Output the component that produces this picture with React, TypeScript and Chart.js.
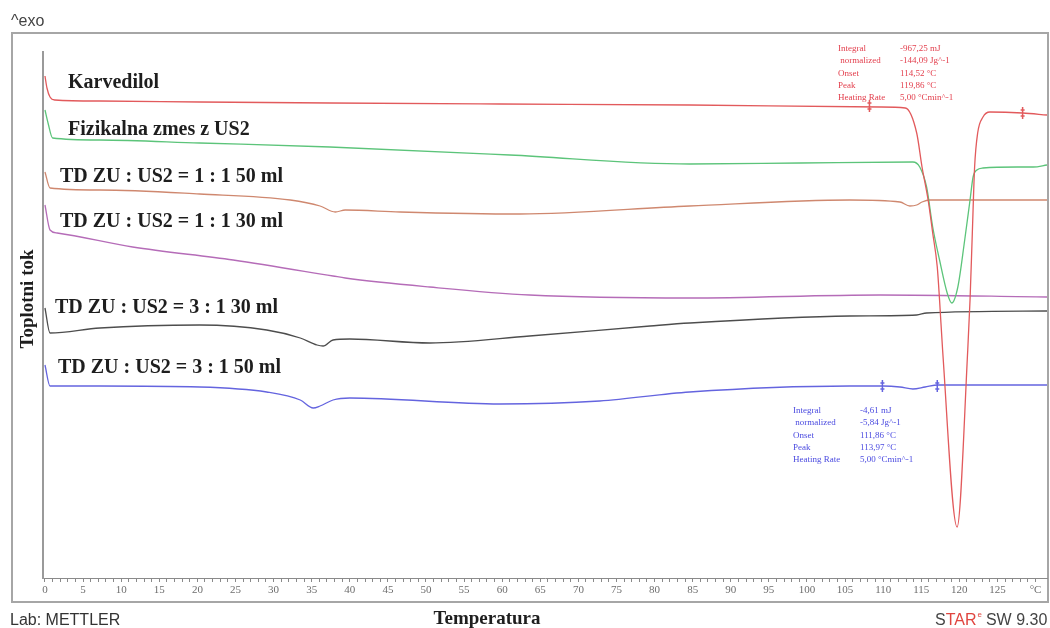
import React, { useEffect, useRef } from "react";
import { Chart, registerables } from "chart.js";

Chart.register(...registerables);

// Temperature (°C) and heat flow (arbitrary units, exo up)
const KARVEDILOL_T = [0, 0.26, 0.66, 1.3, 7.2, 20.3, 37.4, 59.7, 84.6, 109.6, 112.9, 114.4, 115.1, 115.9, 116.5, 117.1, 117.4, 117.8, 119.7, 121.1, 121.4, 121.7, 122.0, 122.4, 123.1, 124.0, 128.3, 131.5];
const KARVEDILOL_HF = [502, 490, 481, 478, 477, 476, 475, 474, 473, 471, 470, 445, 411, 378, 345, 311, 278, 228, 51, 228, 278, 345, 411, 445, 461, 466, 465, 463];

const FIZ_T = [0, 0.4, 1.0, 7.2, 20.3, 37.4, 61.0, 84.6, 99.1, 113.9, 114.8, 115.7, 116.5, 117.4, 118.4, 119.0, 119.8, 120.7, 121.4, 121.8, 122.3, 123.1, 127.6, 129.7, 131.5];
const FIZ_HF = [468, 455, 440, 438, 435, 431, 423, 414, 415, 416, 411, 391, 351, 318, 285, 275, 291, 338, 378, 401, 408, 410, 411, 411, 413];

const TD11_50_T = [0, 0.66, 7.2, 20.3, 32.2, 36.1, 38.1, 39.4, 46.6, 62.3, 84.6, 105.6, 112.2, 113.5, 114.4, 115.1, 116.1, 131.5];
const TD11_50_HF = [406, 390, 388, 384, 378, 372, 366, 368, 366, 364, 372, 378, 376, 372, 373, 376, 378, 378];

const TD11_30_T = [0, 0.66, 1.6, 11.5, 24.7, 37.8, 39.4, 50.5, 63.6, 84.6, 109.6, 131.5];
const TD11_30_HF = [373, 348, 345, 331, 318, 302, 300, 291, 283, 280, 283, 281];

const TD31_30_T = [0, 0.66, 7.2, 20.3, 29.1, 33.5, 35.7, 36.5, 37.8, 40.0, 50.5, 63.6, 79.4, 84.6, 105.6, 114.4, 115.7, 131.5];
const TD31_30_HF = [270, 245, 250, 253, 248, 240, 233, 232, 238, 239, 235, 242, 252, 255, 262, 263, 265, 267];

const TD31_50_T = [0, 0.66, 7.2, 20.3, 29.1, 33.5, 35.2, 36.1, 37.8, 40.0, 59.7, 72.8, 84.6, 105.6, 110.0, 112.2, 113.9, 115.5, 117.2, 131.5];
const TD31_50_HF = [213, 192, 192, 191, 186, 178, 170, 172, 178, 180, 174, 177, 186, 192, 192, 191, 189, 191, 193, 193];

const SERIES_NAMES = [
  "Karvedilol",
  "Fizikalna zmes z US2",
  "TD ZU : US2 = 1 : 1 50 ml",
  "TD ZU : US2 = 1 : 1 30 ml",
  "TD ZU : US2 = 3 : 1 30 ml",
  "TD ZU : US2 = 3 : 1 50 ml",
];

// x tick positions every 1 °C, labelled every 5 °C, "°C" at the end
const TICK_VALUES = Array.from({ length: 131 }, (_, i) => i);
const TICK_LABELS = ["0", "5", "10", "15", "20", "25", "30", "35", "40", "45", "50", "55", "60", "65", "70", "75", "80", "85", "90", "95", "100", "105", "110", "115", "120", "125", "°C"];

// integration limits (temperature, heat flow)
const RED_LIMITS = [[108.2, 472], [128.3, 465]];
const BLUE_LIMITS = [[109.9, 192], [117.1, 192]];

const RED_ANN = [
  ["Integral", "-967,25 mJ"],
  [" normalized", "-144,09 Jg^-1"],
  ["Onset", "114,52 °C"],
  ["Peak", "119,86 °C"],
  ["Heating Rate", "5,00 °Cmin^-1"],
];
const BLUE_ANN = [
  ["Integral", "-4,61 mJ"],
  [" normalized", "-5,84 Jg^-1"],
  ["Onset", "111,86 °C"],
  ["Peak", "113,97 °C"],
  ["Heating Rate", "5,00 °Cmin^-1"],
];

const SERIES_T = [KARVEDILOL_T, FIZ_T, TD11_50_T, TD11_30_T, TD31_30_T, TD31_50_T];
const SERIES_HF = [KARVEDILOL_HF, FIZ_HF, TD11_50_HF, TD11_30_HF, TD31_30_HF, TD31_50_HF];
const COLORS = ["#e25a5c", "#5cc47a", "#cf886f", "#b56cb8", "#4d4d4d", "#6464df"];

const LABEL_POS = [
  [68, 88],
  [68, 135],
  [60, 182],
  [60, 227],
  [55, 313],
  [58, 373],
];

const SERIF = "'Liberation Serif', 'Times New Roman', serif";
const SANS = "'Liberation Sans', Arial, sans-serif";

const decor = {
  id: "decor",
  beforeDraw(chart: any) {
    const ctx = chart.ctx;
    ctx.save();
    ctx.fillStyle = "#ffffff";
    ctx.fillRect(0, 0, chart.width, chart.height);
    ctx.strokeStyle = "#a6a6a6";
    ctx.lineWidth = 2;
    ctx.strokeRect(12, 33, 1036, 569);
    ctx.restore();
  },
  afterDraw(chart: any) {
    const ctx = chart.ctx;
    const xs = chart.scales.x;
    const ys = chart.scales.y;
    ctx.save();
    // curve labels
    ctx.fillStyle = "#1e1e1e";
    ctx.font = `bold 20px ${SERIF}`;
    ctx.textBaseline = "alphabetic";
    ctx.textAlign = "left";
    SERIES_NAMES.forEach((n, i) => ctx.fillText(n, LABEL_POS[i][0], LABEL_POS[i][1]));

    // y title
    ctx.save();
    ctx.translate(33, 299);
    ctx.rotate(-Math.PI / 2);
    ctx.textAlign = "center";
    ctx.font = `bold 19px ${SERIF}`;
    ctx.fillText("Toplotni tok", 0, 0);
    ctx.restore();

    // x title
    ctx.textAlign = "center";
    ctx.font = `bold 19px ${SERIF}`;
    ctx.fillText("Temperatura", 487, 624);

    // ^exo
    ctx.textAlign = "left";
    ctx.fillStyle = "#444";
    ctx.font = `16px ${SANS}`;
    ctx.fillText("^exo", 11, 26);

    // Lab
    ctx.font = `16px ${SANS}`;
    ctx.fillStyle = "#333";
    ctx.fillText("Lab: METTLER", 10, 625);

    // STAR SW 9.30
    let x = 935;
    ctx.fillStyle = "#444";
    ctx.fillText("S", x, 625);
    x += ctx.measureText("S").width;
    ctx.fillStyle = "#e0453f";
    ctx.fillText("TAR", x, 625);
    x += ctx.measureText("TAR").width;
    ctx.font = `8px ${SANS}`;
    ctx.fillText("e", x + 1, 617);
    x += 5;
    ctx.font = `16px ${SANS}`;
    ctx.fillStyle = "#444";
    ctx.fillText(" SW 9.30", x, 625);

    // annotations
    ctx.font = `9px ${SERIF}`;
    ctx.fillStyle = "#e3404e";
    RED_ANN.forEach((r, i) => {
      ctx.fillText(r[0], 838, 51 + i * 12.3);
      ctx.fillText(r[1], 900, 51 + i * 12.3);
    });
    ctx.fillStyle = "#4b4be0";
    BLUE_ANN.forEach((r, i) => {
      ctx.fillText(r[0], 793, 413 + i * 12.3);
      ctx.fillText(r[1], 860, 413 + i * 12.3);
    });

    // integration limit markers
    const mark = (lim: number[][], color: string) => {
      ctx.strokeStyle = color;
      ctx.lineWidth = 1.5;
      lim.forEach(([t, h]) => {
        const px = xs.getPixelForValue(t);
        const py = ys.getPixelForValue(h);
        ctx.beginPath();
        ctx.moveTo(px, py - 6);
        ctx.lineTo(px, py + 6);
        ctx.moveTo(px - 2, py - 3);
        ctx.lineTo(px + 2, py - 3);
        ctx.moveTo(px - 2, py + 3);
        ctx.lineTo(px + 2, py + 3);
        ctx.stroke();
      });
    };
    mark(RED_LIMITS, COLORS[0]);
    mark(BLUE_LIMITS, COLORS[5]);
    ctx.restore();
  },
};

export default function App() {
  const ref = useRef<HTMLCanvasElement>(null);
  useEffect(() => {
    if (!ref.current) return;
    const datasets = SERIES_NAMES.map((name, i) => ({
      label: name,
      data: SERIES_T[i].map((t, j) => ({ x: t, y: SERIES_HF[i][j] })),
      borderColor: COLORS[i],
      borderWidth: 1.3,
      pointRadius: 0,
      fill: false,
      cubicInterpolationMode: "monotone" as const,
    }));
    const chart = new Chart(ref.current, {
      type: "line",
      data: { datasets },
      options: {
        animation: false,
        responsive: false,
        layout: { padding: { left: 12, right: 3, top: 52, bottom: 26 } },
        plugins: { legend: { display: false }, tooltip: { enabled: false } },
        scales: {
          x: {
            type: "linear",
            min: -0.26,
            max: 131.5,
            afterBuildTicks: (s: any) => {
              s.ticks = TICK_VALUES.map((v) => ({ value: v }));
            },
            afterFit: (s: any) => {
              s.height = 24;
            },
            grid: { display: true, drawOnChartArea: false, drawTicks: true, tickLength: 4, color: "#8a8a8a" },
            border: { display: true, color: "#8a8a8a", width: 1 },
            ticks: {
              autoSkip: false,
              maxRotation: 0,
              padding: 2,
              color: "#6e6e6e",
              font: { family: SERIF, size: 11 },
              callback: (v: any) => (Number(v) % 5 === 0 ? TICK_LABELS[Number(v) / 5] : ""),
            },
          },
          y: {
            type: "linear",
            min: 0,
            max: 526,
            afterFit: (s: any) => {
              s.width = 31;
            },
            grid: { display: false, drawTicks: false },
            border: { display: true, color: "#9a9a9a", width: 2 },
            ticks: { display: false },
          },
        },
      },
      plugins: [decor],
    });
    return () => chart.destroy();
  }, []);
  return (
    <div style={{ position: "absolute", left: 0, top: 0, width: 1050, height: 628 }}>
      <canvas ref={ref} width={1050} height={628} />
    </div>
  );
}
